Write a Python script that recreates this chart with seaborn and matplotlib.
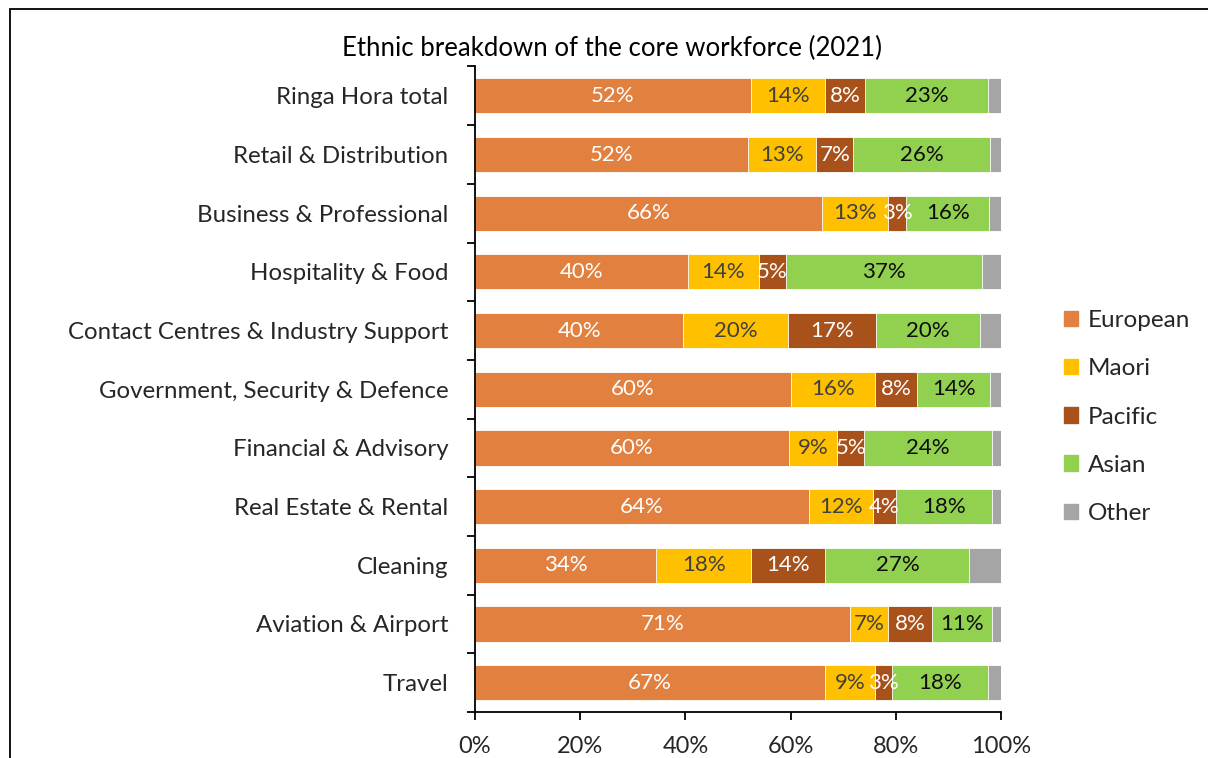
import matplotlib
matplotlib.use("Agg")
import matplotlib.pyplot as plt
import seaborn as sns
import numpy as np
import pandas as pd
from matplotlib.patches import Rectangle
from matplotlib.ticker import FuncFormatter, FixedLocator

categories = ["Ringa Hora total", "Retail & Distribution", "Business & Professional",
              "Hospitality & Food", "Contact Centres & Industry Support",
              "Government, Security & Defence", "Financial & Advisory",
              "Real Estate & Rental", "Cleaning", "Aviation & Airport", "Travel"]
european = [52.4, 51.9, 65.9, 40.4, 39.6, 60.0, 59.7, 63.5, 34.5, 71.3, 66.6]
maori    = [14.2, 13.0, 12.7, 13.6, 20.0, 16.1,  9.2, 12.2, 18.0,  7.3,  9.4]
pacific  = [ 7.6,  7.0,  3.4,  5.1, 16.6,  8.0,  5.1,  4.3, 14.1,  8.3,  3.2]
asian    = [23.3, 26.1, 15.8, 37.3, 19.9, 13.9, 24.2, 18.2, 27.4, 11.3, 18.3]
other    = [ 2.5,  2.0,  2.2,  3.6,  3.9,  2.0,  1.8,  1.8,  6.0,  1.8,  2.5]
series = ["European", "Maori", "Pacific", "Asian", "Other"]
title = "Ethnic breakdown of the core workforce (2021)"
xticks = [0, 20, 40, 60, 80, 100]

colors = {"European": "#E2813F", "Maori": "#FFC000", "Pacific": "#A8511A",
          "Asian": "#92D050", "Other": "#A5A5A5"}
label_colors = {"European": "#FFFFFF", "Maori": "#404040", "Pacific": "#FFFFFF",
                "Asian": "#0D0D0D", "Other": None}

df = pd.DataFrame({"Category": categories, "European": european, "Maori": maori,
                   "Pacific": pacific, "Asian": asian, "Other": other})
cum = df[series].cumsum(axis=1)
cum["Category"] = categories

sns.set_theme(style="white")
FONT = ["Lato", "DejaVu Sans"]
plt.rcParams["font.family"] = FONT

W, H = 1208, 758
fig = plt.figure(figsize=(W / 100, H / 100), dpi=100)
ax = fig.add_axes([475 / W, 1 - 712 / H, (1001 - 475) / W, (712 - 66.5) / H])

for s in reversed(series):
    sns.barplot(data=cum, x=s, y="Category", orient="h", color=colors[s],
                width=0.6, saturation=1, edgecolor="white", linewidth=0.6,
                ax=ax)
if ax.get_legend() is not None:
    ax.get_legend().remove()

# segment labels
for i in range(len(categories)):
    left = 0.0
    for s in series:
        v = df.loc[i, s]
        if label_colors[s] is not None:
            ax.text(left + v / 2, i, f"{v:.0f}%", ha="center", va="center",
                    fontsize=16, color=label_colors[s])
        left += v

ax.set_xlim(0, 100)
ax.set_ylim(len(categories) - 0.5, -0.5)
ax.xaxis.set_major_locator(FixedLocator(xticks))
ax.xaxis.set_major_formatter(FuncFormatter(lambda v, p: f"{v:.0f}%"))
ax.set_xlabel("")
ax.set_ylabel("")
for sp in ["top", "right"]:
    ax.spines[sp].set_visible(False)
for sp in ["left", "bottom"]:
    ax.spines[sp].set_color("black")
    ax.spines[sp].set_linewidth(1.3)

ax.set_yticks(np.arange(len(categories)))
ax.set_yticklabels(categories)
ax.set_yticks(np.arange(len(categories) + 1) - 0.5, minor=True)
ax.tick_params(axis="y", which="major", length=0, pad=19, labelsize=17.3, labelcolor="#262626")
ax.tick_params(axis="y", which="minor", length=6, width=1.3, color="black", direction="out", left=True)
ax.tick_params(axis="x", which="major", length=6, width=1.3, color="black", direction="out",
               bottom=True, pad=11, labelsize=17, labelcolor="#262626")

# legend
handles = [Rectangle((0, 0), 1, 1, color=colors[s]) for s in series]
fig.legend(handles, series, loc="center left", bbox_to_anchor=(1042 / W, 1 - 417 / H),
           frameon=False, fontsize=17.5, handlelength=0.6, handleheight=0.6,
           labelspacing=1.12, handletextpad=0.4, labelcolor="#262626")

fig.text(612 / W, 1 - 48 / H, title, ha="center", va="center", fontsize=18.5, color="black")

# outer frame (partially cropped)
fig.add_artist(Rectangle((10 / W, -0.5), 2.0, 1.5 - 9.3 / H, transform=fig.transFigure,
                         fill=False, edgecolor="black", linewidth=1.3))

fig.savefig("out.png", dpi=100)
